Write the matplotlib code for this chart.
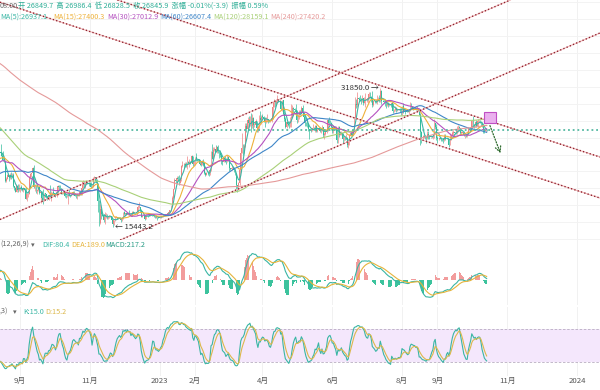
import numpy as np
import pandas as pd
import matplotlib
matplotlib.use("Agg")
import matplotlib.pyplot as plt
from matplotlib.patches import Rectangle

plt.rcParams['font.family'] = ['Noto Sans CJK SC', 'DejaVu Sans']

# daily closes 2021-12-01 .. 2022-08-13, only used to warm up the moving averages
warm_close = [
    57200, 56500, 53600, 49200, 49400, 50600, 50500, 50600, 47600, 47100, 49300, 50100, 46700, 48400, 48900, 47600,
    46200, 46800, 46700, 46900, 49000, 48600, 50800, 50400, 50800, 50600, 50700, 47500, 46500, 47100, 46300,
    47700, 47300, 46400, 45800, 43400, 43100, 41500, 41700, 41900, 41800, 42700, 43900, 42600, 43100, 43200, 43100,
    42200, 42400, 41700, 40700, 36500, 35100, 36300, 36700, 36950, 36850, 37100, 37700, 38200, 37900, 38500,
    38700, 36900, 37300, 41600, 41400, 42400, 43800, 44100, 44300, 43600, 42400, 42200, 42100, 42600, 44600, 43900,
    40500, 40000, 40100, 38400, 37000, 38300, 37300, 38300, 39200, 39100, 37700, 43200,
    44400, 44000, 42500, 39100, 39400, 38400, 38000, 38700, 41900, 39400, 38700, 38800, 37800, 39700, 39300, 41100,
    40900, 41800, 42200, 41300, 41000, 42400, 42900, 44000, 44300, 44500, 46800, 47100, 47400, 47100, 45500,
    46300, 45800, 46400, 46600, 45500, 43200, 43400, 42300, 42800, 42200, 39500, 40100, 41100, 39900, 40500, 40400,
    39700, 40800, 41500, 41400, 40500, 39700, 39500, 39500, 40400, 38100, 39200, 39700, 38600, 37700,
    38500, 38500, 37700, 39700, 36500, 36000, 35500, 34100, 30100, 31000, 29100, 29000, 29300, 30100, 31300, 29900,
    30400, 28700, 30300, 29200, 29400, 30300, 29100, 29700, 29600, 29300, 28600, 29000, 29400, 31700, 31800,
    29800, 30500, 29700, 29900, 29900, 31400, 31100, 30200, 30100, 29100, 28400, 26600, 22500, 22200, 22600, 20400,
    20600, 19000, 20600, 20600, 20700, 19990, 21100, 21200, 21500, 21000, 20700, 20300, 20100, 19800,
    19300, 19300, 19300, 20200, 20200, 20600, 21600, 21600, 21600, 20900, 19970, 19300, 20200, 20600, 20800, 21200,
    20800, 22400, 23400, 23200, 23200, 22700, 22500, 22600, 21300, 21250, 22950, 23850, 23800, 23650, 23300,
    23300, 22980, 22800, 22600, 23300, 23170, 23200, 23800, 23150, 23950, 23950, 24400, 24440,
]

# visible candles, daily 2022-08-14 .. 2023-10-14
close = [
    24310, 24130, 23860, 23340, 23190, 20880, 21170, 21530, 21400, 21530, 21370, 21560, 20270, 20040, 19560, 20290, 19800, 20050,
    20130, 19950, 19830, 20000, 19800, 18800, 19290, 19320, 21370, 21650, 21830, 22400, 20170, 20230, 19700, 19800,
    20110, 19420, 19540, 18880, 18550, 19410, 19300, 18930, 18800, 19220, 19080, 19410, 19590, 19420,
    19310, 19050, 19620, 20340, 20160, 19960, 19530, 19420, 19440, 19130, 19060, 19160, 19380, 19190, 19070, 19270,
    19550, 19330, 19120, 19050, 19170, 19200, 19570, 19330, 20090, 20770, 20290, 20600, 20810, 20630, 20490,
    20480, 20150, 20210, 21150, 21300, 20910, 20590, 18540, 15880, 17590, 17030, 16800, 16330, 16620, 16900, 16660,
    16690, 16700, 16700, 16280, 15780, 16230, 16600, 16600, 16520, 16460, 16440, 16220, 16440, 17170,
    16970, 17090, 16890, 17110, 16970, 17090, 16840, 17220, 17130, 17130, 17100, 17200, 17780, 17810, 17360, 16630,
    16780, 16740, 16440, 16900, 16830, 16820, 16780, 16840, 16830, 16920, 16700, 16550, 16630, 16600, 16540,
    16620, 16680, 16680, 16860, 16830, 16950, 16940, 17090, 17190, 17440, 17940, 18850, 19930, 20950, 20870, 21180,
    21130, 20680, 21070, 22670, 22780, 22710, 22920, 22610, 23060, 23010, 23080, 23030, 23770, 22840, 23140,
    23730, 23490, 23430, 23330, 22930, 22760, 23260, 22960, 21800, 21630, 21860, 21790, 21780, 22200, 24330, 23520,
    24570, 24630, 24280, 24840, 24440, 24190, 23950, 23190, 23160, 23550, 23490, 23150,
    23650, 23470, 22360, 22350, 22430, 22410, 22200, 21720, 20360, 20190, 20630, 22160, 24200, 24750, 24380, 25050,
    27420, 26970, 28040, 27770, 28170, 27310, 28330, 27490, 27490, 28000, 27140, 27270, 28350, 28030, 28480,
    28460, 28200, 27800, 28170, 28180, 28040, 27930, 27950, 28330, 29650, 30230, 29880, 30390, 30490, 30320, 30320,
    29430, 30400, 28820, 28250, 27280, 27820, 27590, 27520, 28310, 28420, 29470, 29340, 29250, 29230,
    28090, 28680, 29030, 28850, 29530, 28900, 28450, 27690, 27660, 27620, 27020, 26810, 26790, 26930, 27170, 27030,
    27400, 26830, 26890, 27120, 26750, 26850, 27230, 26330, 26480, 26720, 26870, 28090, 27750, 27700, 27220,
    26820, 27250, 27070, 27120, 25730, 27230, 26350, 26480, 26480, 25850, 25940, 25900, 25920, 25120, 25580, 26330,
    26510, 26340, 26840, 28310, 30000, 29890, 30690, 30550, 30470, 30270, 30690, 30080, 30450, 30470,
    30590, 30620, 31160, 30770, 30510, 29900, 30350, 30290, 30170, 30410, 30620, 30390, 31480, 30330, 30300, 30250,
    30140, 29860, 29910, 29800, 29910, 29790, 30080, 29180, 29230, 29350, 29220, 29310, 29350, 29280, 29230,
    29700, 29170, 29180, 29070, 29040, 29040, 29180, 29770, 29580, 29430, 29400, 29420, 29290, 29410, 29170, 28700,
    26630, 26050, 26100, 26190, 26120, 25990, 26430, 26160, 26050, 26010, 26090, 26100, 27730, 27300, 25930,
    25800, 25870, 25970, 25820, 25780, 25750, 26240, 25910, 25900, 25840, 25160, 25840, 26220, 26530, 26610, 26570,
    26530, 26760, 27210, 27130, 26570, 26580, 26580, 26250, 26300, 26220, 26370, 27020, 26910, 26970,
    27990, 27530, 27430, 27790, 27410, 27950, 27970, 27940, 27590, 27390, 26870, 26760, 26860, 26846,
]
high = [
    24990, 25200, 24230, 24450, 23600, 23200, 21380, 21700, 21530, 21820, 21880, 21800, 21860, 20340, 20140, 20400, 20560, 20480,
    20200, 20440, 20000, 20170, 20050, 20150, 19450, 19440, 21500, 21800, 21860, 22580, 22770, 20540, 20360, 19900,
    20190, 20100, 19640, 19650, 19950, 19500, 19490, 19320, 19150, 19300, 20350, 19740, 19630, 20180,
    19480, 19390, 19690, 20450, 20360, 20440, 20000, 19610, 19550, 19520, 19260, 19230, 19510, 19920, 19220, 19300,
    19670, 19700, 19350, 19320, 19250, 19250, 19690, 19600, 20400, 21000, 20860, 20730, 21050, 20920, 20780,
    20700, 20790, 20380, 21300, 21470, 21370, 21060, 20670, 18590, 18150, 17650, 17070, 16930, 17180, 17130, 17000,
    16770, 16860, 16800, 16760, 16290, 16300, 16700, 16790, 16610, 16680, 16590, 16480, 16530, 17250,
    17310, 17100, 17150, 17180, 17420, 17110, 17130, 17300, 17350, 17220, 17250, 17230, 18000, 18370, 17850, 17530,
    16800, 16860, 16800, 17040, 16920, 16860, 16830, 16860, 16860, 16940, 16960, 16780, 16650, 16650, 16640,
    16630, 16760, 16780, 16990, 16880, 16990, 16970, 17180, 17390, 17490, 18000, 19060, 19970, 21200, 21080, 21450,
    21440, 21630, 21170, 22740, 23280, 23050, 23160, 23160, 23800, 23240, 23500, 23180, 23950, 23810, 23250,
    23760, 24200, 23580, 23460, 23400, 23150, 23360, 23420, 23010, 21930, 21900, 22070, 21880, 22310, 24360, 25200,
    24870, 24840, 25090, 25020, 25120, 24460, 24560, 24110, 23210, 23670, 23870, 23590,
    23920, 23770, 23470, 22420, 22610, 22600, 22550, 22270, 21800, 20290, 20790, 22250, 24550, 26510, 25230, 25210,
    27740, 27710, 28400, 28500, 28510, 28850, 28770, 28370, 27770, 28170, 28010, 27490, 28630, 29170, 28650,
    28800, 28530, 28470, 28440, 28760, 28180, 28100, 28150, 28440, 29770, 30540, 30470, 30610, 31000, 30610, 30580,
    30310, 30460, 30410, 29100, 28370, 28000, 27820, 28000, 28380, 30000, 29880, 29580, 29440, 29950,
    29310, 28880, 29260, 29270, 29670, 29830, 29000, 28650, 27840, 28330, 27670, 26980, 26990, 27180, 27660, 27290,
    27470, 27480, 27190, 27160, 27290, 26990, 27500, 27230, 26640, 26930, 26940, 28200, 28420, 28030, 27850,
    27350, 27300, 27320, 27400, 27130, 27330, 27370, 26780, 26780, 26530, 26170, 26080, 26400, 26080, 25740, 26470,
    26750, 26690, 26980, 28400, 30780, 30500, 31370, 30800, 31000, 30650, 31000, 30690, 30800, 31260,
    30650, 30760, 31380, 31320, 30880, 31500, 30440, 30380, 30430, 31020, 30790, 30980, 31850, 31640, 30390, 30440,
    30330, 30240, 30410, 30200, 30040, 29990, 30340, 30100, 29380, 29680, 29560, 29530, 29410, 29450, 29520,
    29740, 30030, 29430, 29320, 29110, 29150, 29240, 30170, 30130, 29710, 29540, 29480, 29450, 29670, 29470, 29250,
    28770, 26820, 26270, 26290, 26260, 26130, 26800, 26800, 26300, 26120, 26160, 26230, 28140, 27760, 27560,
    26130, 25980, 26100, 26010, 25890, 25950, 26430, 26440, 25950, 25960, 25890, 26540, 26370, 26810, 26890, 26670,
    26620, 27400, 27490, 27370, 27160, 26740, 26630, 26720, 26420, 26400, 26820, 27300, 27230, 27090,
    28070, 28590, 27660, 27830, 28120, 28250, 28020, 28110, 27990, 27680, 27480, 26940, 26990, 26986,
]
low = [
    24140, 23800, 23700, 23200, 23110, 20780, 20800, 21070, 20900, 21130, 21150, 21300, 20130, 19800, 19540, 19550, 19580, 19640,
    19600, 19770, 19670, 19600, 19650, 18700, 18550, 19000, 19320, 21080, 21370, 21430, 20070, 19650, 19490, 19320,
    19700, 19370, 18280, 18750, 18200, 18540, 18950, 18820, 18650, 18660, 18860, 18520, 19100, 19180,
    19200, 18960, 19000, 19500, 19800, 19900, 19330, 19320, 19320, 19040, 18880, 18990, 18190, 19100, 19030, 19060,
    19170, 19220, 19080, 18900, 18700, 19120, 19140, 19250, 19200, 20070, 20200, 20020, 20550, 20550, 20240,
    20350, 20060, 20050, 20180, 21120, 20870, 20400, 17180, 15590, 15750, 16400, 16750, 16030, 15850, 16540, 16420,
    16420, 16550, 16580, 16170, 15443, 15700, 16170, 16460, 16370, 16420, 16400, 16000, 16190, 16430,
    16860, 16790, 16870, 16880, 16900, 16900, 16690, 16740, 17080, 17120, 17070, 16900, 17100, 17660, 17270, 16580,
    16580, 16660, 16300, 16400, 16760, 16580, 16760, 16780, 16730, 16790, 16620, 16460, 16500, 16330, 16480,
    16500, 16550, 16600, 16660, 16750, 16790, 16910, 16900, 17070, 17150, 17300, 17910, 18710, 19890, 20600, 20590,
    20890, 20450, 20660, 20900, 22470, 22360, 22530, 22530, 22350, 22890, 22540, 22920, 22970, 22600, 22770,
    22760, 23240, 23240, 23260, 22760, 22630, 22730, 22690, 21710, 21450, 21600, 21640, 21410, 21560, 22080, 23440,
    23410, 24450, 24250, 24170, 24150, 23610, 23650, 22860, 22730, 23070, 23140, 22880,
    23080, 23230, 22020, 22200, 22200, 22300, 21960, 21600, 19960, 19560, 19830, 20430, 21900, 24230, 23930, 24160,
    24930, 26640, 26840, 27200, 27400, 26620, 27110, 27010, 27200, 27380, 26650, 26620, 27030, 27720, 27600,
    28280, 27880, 27300, 27670, 27880, 27720, 27800, 27880, 27820, 28170, 29600, 29630, 29800, 30050, 30230, 30110,
    29270, 29120, 28630, 28000, 27150, 27120, 27340, 27090, 27200, 27270, 28380, 28900, 29090, 29080,
    27700, 27870, 28140, 28700, 28840, 28810, 28350, 27350, 27370, 27260, 26770, 25850, 26710, 26780, 26900, 26900,
    26650, 26700, 26680, 26840, 26620, 26580, 26830, 26100, 25880, 26350, 26560, 26750, 27560, 27600, 26880,
    26560, 26500, 26930, 26950, 25400, 25380, 26120, 26310, 26350, 25400, 25620, 25660, 25820, 24900, 24800, 25160,
    26300, 26280, 26280, 26700, 28250, 29520, 29620, 30330, 30320, 29970, 30220, 29880, 30070, 29600,
    30250, 30040, 30590, 30640, 30200, 29550, 29720, 30050, 30090, 29950, 30280, 30250, 30230, 29970, 30260, 30070,
    29670, 29540, 29780, 29600, 29720, 29660, 29740, 28890, 29070, 29100, 29070, 29170, 29280, 29050, 28630,
    28660, 28940, 29100, 28760, 28960, 28990, 28700, 29120, 29370, 29340, 29240, 29360, 29250, 29090, 29110, 28660,
    25170, 25380, 25810, 26000, 25820, 25350, 25820, 25860, 25800, 25980, 25970, 25880, 25920, 27070, 25700,
    25330, 25760, 25810, 25600, 25570, 25370, 25640, 25670, 25790, 25590, 24900, 25120, 25770, 26130, 26240, 26470,
    26390, 26390, 26680, 26800, 26360, 26450, 26520, 26130, 26000, 26050, 26110, 26330, 26660, 26800,
    26960, 27340, 27170, 27220, 27220, 27180, 27860, 27690, 27320, 27290, 26560, 26550, 26700, 26828,
]
assert len(close) == len(high) == len(low), (len(close), len(high), len(low))

last_price = 26845.9
hi_label = 31850.0
lo_label = 15443.2

ma_periods = [5, 15, 30, 60, 120, 240]
ma_colors = ['#3ab6a4', '#eeb13a', '#b552c0', '#3f86c8', '#a9d078', '#e59a9a']

tick_dates = ['2022-09-01', '2022-11-01', '2023-01-01', '2023-02-01', '2023-04-01',
              '2023-06-01', '2023-08-01', '2023-09-01', '2023-11-01', '2024-01-01']
tick_labels = ['9月', '11月', '2023', '2月', '4月', '6月', '8月', '9月', '11月', '2024']

# hand drawn trend lines: two points each (date, price)
trend_lines = [
    [('2022-08-14', 16300), ('2023-10-29', 41900)],
    [('2022-12-24', 15450), ('2024-01-21', 38340)],
    [('2022-08-14', 42000), ('2024-01-21', 18870)],
    [('2023-01-18', 39870), ('2024-01-21', 23710)],
]
box_dates = ('2023-10-12', '2023-10-22')
box_prices = (27720, 29020)
arrow_from = ('2023-10-16', 27720)
arrow_to = ('2023-10-27', 23830)

up_col = '#ee8484'
dn_col = '#34bd9c'

origin = pd.Timestamp('2022-09-01')


def dn(s):
    return (pd.Timestamp(s) - origin).days


dates = pd.date_range('2022-08-14', periods=len(close), freq='D')
x = np.asarray((dates - origin).days, dtype=float)
nw = len(warm_close)
all_close = pd.Series(warm_close + close, dtype=float)
c = np.array(close, dtype=float)
o = all_close.shift(1).values[nw:]
h = np.maximum(np.array(high, dtype=float), np.maximum(o, c))
l = np.minimum(np.array(low, dtype=float), np.minimum(o, c))

# indicators
mas = [all_close.rolling(p).mean().values[nw:] for p in ma_periods]
ema12 = all_close.ewm(span=12, adjust=False).mean()
ema26 = all_close.ewm(span=26, adjust=False).mean()
dif = ema12 - ema26
dea = dif.ewm(span=9, adjust=False).mean()
hist = (2 * (dif - dea)).values[nw:]
dif = dif.values[nw:]
dea = dea.values[nw:]

h9 = pd.Series(h).rolling(9, min_periods=1).max()
l9 = pd.Series(l).rolling(9, min_periods=1).min()
rsv = (pd.Series(c) - l9) / (h9 - l9) * 100
k = rsv.ewm(alpha=1 / 3, adjust=False).mean()
d = k.ewm(alpha=1 / 3, adjust=False).mean()

W, H = 600, 390
fig = plt.figure(figsize=(6, 3.9), dpi=100)
fig.patch.set_facecolor('white')


def px_axes(top, bottom):
    return fig.add_axes([0, 1 - bottom / H, 1, (bottom - top) / H])


ax = px_axes(0, 240)
axm = px_axes(240, 305)
axk = px_axes(307, 376)
xlim = (-17.5, 507.1)
tick_x = [dn(t) for t in tick_dates]
for a in (ax, axm, axk):
    a.set_xlim(*xlim)
    a.set_xticks([])
    a.set_yticks([])
    for s in a.spines.values():
        s.set_visible(False)
    for tx in tick_x:
        a.axvline(tx, color='#f1f1f1', lw=0.7, zorder=0)

# main price panel
ax.set_ylim(31850 - 152 * 118, 31850 + 88 * 118)
for gy in range(14000, 44000, 2000):
    ax.axhline(gy, color='#f3f3f3', lw=0.7, zorder=0)

cols = np.where(c >= o, up_col, dn_col)
ax.vlines(x, l, h, colors=cols, lw=0.5, zorder=2)
ax.bar(x, np.maximum(np.abs(c - o), 40), bottom=np.minimum(o, c), width=0.75,
       color=cols, linewidth=0, zorder=2)

for m, col in zip(mas, ma_colors):
    ax.plot(x, m, color=col, lw=0.8, zorder=3)

for (d1, p1), (d2, p2) in trend_lines:
    ax.axline((dn(d1), p1), (dn(d2), p2), color='#f4b9b9', lw=0.8, zorder=4)
    ax.axline((dn(d1), p1), (dn(d2), p2), color='#8a1f2d', lw=1.0,
              ls=(0, (0.9, 1.6)), zorder=4)

ax.axhline(last_price, color='#55b9a2', lw=1.3, ls=(0, (1, 1.6)), zorder=4)

ax.add_patch(Rectangle((dn(box_dates[0]), box_prices[0]),
                       dn(box_dates[1]) - dn(box_dates[0]), box_prices[1] - box_prices[0],
                       facecolor='#eab0ee', edgecolor='#c04fc4', lw=0.8, zorder=5))
ax.annotate('', xy=(dn(arrow_to[0]), arrow_to[1]), xytext=(dn(arrow_from[0]), arrow_from[1]),
            arrowprops=dict(arrowstyle='->', color='#2f6b2f', lw=0.9, ls=(0, (1, 1.3))), zorder=5)

i_hi = int(np.argmax(h))
i_lo = int(np.argmin(l))
ax.text(x[i_hi] - 1, hi_label, f'{hi_label:.1f} →', ha='right', va='center',
        fontsize=5.6, color='#333333', zorder=6)
ax.text(x[i_lo] + 2, lo_label, f'← {lo_label:.1f}', ha='left', va='center',
        fontsize=5.6, color='#333333', zorder=6)

# MACD panel
peak = max(np.nanmax(dif), np.nanmax(dea), np.nanmax(hist))
unit = peak / 28.0
axm.set_ylim(-25 * unit, 40 * unit)
axm.bar(x, hist, width=0.6, color=np.where(hist >= 0, '#f29c9c', '#3cc39d'), linewidth=0)
axm.plot(x, dif, color='#3ab6a4', lw=0.8)
axm.plot(x, dea, color='#e6b43c', lw=0.8)

# KDJ panel
axk.set_ylim(-5.5, 120)
axk.axhspan(20, 80, color='#f4e7fc', lw=0, zorder=0)
for lvl in (20, 80):
    axk.axhline(lvl, color='#b9adc2', lw=0.6, ls=(0, (3, 2)), zorder=1)
axk.plot(x, k, color='#3ab6a4', lw=0.8, zorder=3)
axk.plot(x, d, color='#dcb84c', lw=0.8, zorder=3)


def ftext(xp, yp, s, color, size=5.2, ha='left'):
    fig.text(xp / W, 1 - yp / H, s, color=color, fontsize=size, ha=ha, va='center')


ftext(0, 6, '08:00', '#666666')
ftext(18, 6, '开 26849.7  高 26986.4  低 26828.5  收 26845.9  涨幅 -0.01%(-3.9)  振幅 0.59%', '#2fae97')
ma_text = ['MA(5):26937.1', 'MA(15):27400.3', 'MA(30):27012.9', 'MA(60):26607.4',
           'MA(120):28159.1', 'MA(240):27420.2']
for xp, s, col in zip([0, 53, 107, 160, 213, 270], ma_text, ma_colors):
    ftext(xp, 18, s, col)

ftext(0, 245, '(12,26,9)', '#666666')
ftext(31, 245, '▾', '#666666')
ftext(42, 245, 'DIF:80.4', '#3ab6a4')
ftext(71, 245, 'DEA:189.0', '#e6b43c')
ftext(105, 245, 'MACD:217.2', '#2a9c86')

ftext(0, 312, ',3)', '#666666')
ftext(13, 312, '▾', '#666666')
ftext(23, 312, 'K:15.0', '#3ab6a4')
ftext(45, 312, 'D:15.2', '#dcb84c')

for tx, lab in zip(tick_x, tick_labels):
    xp = (tx - xlim[0]) / (xlim[1] - xlim[0]) * W
    ftext(xp, 381, lab, '#555555', size=5.6, ha='center')

fig.savefig('out.png', dpi=100, facecolor='white')
